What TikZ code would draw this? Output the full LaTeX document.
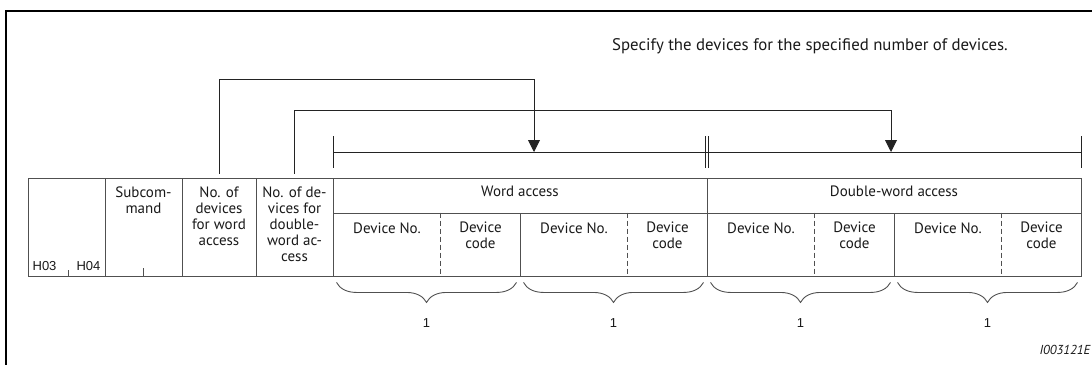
\documentclass[tikz,border=0pt]{standalone}
\usepackage{fontspec}
\setmainfont{PT Sans}
\newfontfamily\arialfont{Liberation Sans}
\usetikzlibrary{arrows.meta,positioning,decorations.pathreplacing}
\definecolor{tblgray}{RGB}{80,80,80}
\definecolor{linedark}{RGB}{35,35,35}

\begin{document}
\begin{tikzpicture}[x=1pt, y=-1pt,
  every node/.style={font=\fontsize{15}{16}\selectfont, text=black!90},
  cell/.style={draw=tblgray, line width=0.9pt, minimum height=98, inner sep=0pt},
  hd/.style={anchor=north, align=center, inner sep=0pt},
  conn/.style={draw=linedark, line width=0.9pt, -{Triangle[width=12pt,length=12pt]}},
  dim/.style={draw=linedark, line width=0.9pt},
  tick/.style={draw=tblgray, line width=0.9pt},
  grp/.style={draw=tblgray, line width=0.9pt, decorate, decoration={brace, mirror, amplitude=20pt}},
  num/.style={font=\arialfont\fontsize{13}{14}\selectfont}
]
\useasboundingbox (0,0) rectangle (1092,364);
\draw[line width=2.2pt] (6,390) |- (1120,11);

\node[anchor=base, font=\fontsize{16.8}{18}\selectfont] (title) at (810,50) {Specify the devices for the specified number of devices.};

\node[cell, minimum width=77] (cmd) at (66.5,227) {};
\node[cell, minimum width=77] (sub) at (143.5,227) {};
\node[cell, minimum width=74] (nw)  at (219,227) {};
\node[cell, minimum width=77] (nd)  at (294.5,227) {};
\node[cell, minimum width=374, minimum height=35] (word)  at (520,195.5) {};
\node[cell, minimum width=374, minimum height=35] (dword) at (894,195.5) {};

\node[hd, below=9pt of sub.north] (tsub) {Subcom-\\mand};
\node[hd, below=9pt of nw.north]  (tnw)  {No. of\\devices\\for word\\access};
\node[hd, below=9pt of nd.north]  (tnd)  {No. of de-\\vices for\\double-\\word ac-\\cess};
\node[anchor=base] (tword)  at (520,196) {Word access};
\node[anchor=base] (tdword) at (894,196) {Double-word access};

\node[num, anchor=base east] (h3) at (60,270) {H03};
\node[num, anchor=base west] (h4) at (73,270) {H04};
\draw[tick] ([xshift=1.5pt]cmd.south) -- ++(0,-6);
\draw[tick] (sub.south) -- ++(0,-8);

\foreach \i [evaluate=\i as \x using 333+187*\i] in {0,...,3} {
  \node[cell, minimum width=187, minimum height=63] (dev\i) at (\x+93.5,244.5) {};
  \draw[tblgray, line width=0.9pt, dash pattern=on 5pt off 3pt]
    ([xshift=108pt]dev\i.north west) -- ([xshift=108pt]dev\i.south west);
  \node[anchor=base] (no\i) at (\x+54,233) {Device No.};
  \node[hd] (code\i) at (\x+147.5,222) {Device\\code};
  \draw[grp] ([xshift=4pt, yshift=-6pt]dev\i.south west) -- ([xshift=-4pt, yshift=-6pt]dev\i.south east);
  \node[num, anchor=base] (one\i) at ([yshift=-51pt]dev\i.south) {1};
}

\coordinate (d0) at (333,152);
\coordinate (d1) at (705.5,152);
\coordinate (d2) at (708.5,152);
\coordinate (d3) at (1081,152);
\draw[dim] (d0) -- (d3);
\foreach \c in {d0,d1,d2,d3}
  \draw[dim] ([yshift=16pt]\c) -- ([yshift=-16pt]\c);

\coordinate (wm) at (534,152);
\coordinate (dm) at (891,152);
\draw[conn, shorten <=4pt] (nw.north) |- (wm |- 0,79) -- (wm);
\draw[conn, shorten <=4pt] (nd.north) |- (dm |- 0,110) -- (dm);

\node[font=\itshape\fontsize{13}{14}\selectfont, anchor=base west] (ref) at (1036,354) {I003121E};
\end{tikzpicture}
\end{document}
